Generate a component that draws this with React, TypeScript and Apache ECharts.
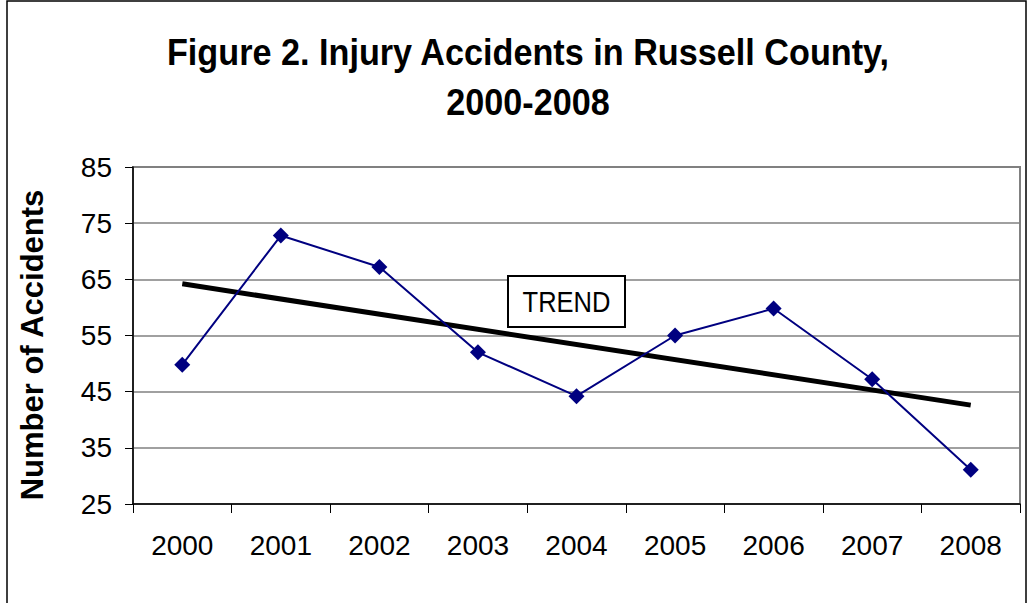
import React, { useEffect, useRef } from "react";
import * as echarts from "echarts";

const years = ["2000", "2001", "2002", "2003", "2004", "2005", "2006", "2007", "2008"];
const accidents = [49.8, 72.8, 67.2, 52.0, 44.2, 55.0, 59.8, 47.2, 31.1];
const trend = [64.2, null, null, null, null, null, null, null, 42.6];
const yTicks = { min: 25, max: 85, interval: 10 };
const titleLines = ["Figure 2. Injury Accidents in Russell County,", "2000-2008"];
const yName = "Number of Accidents";
const trendLabel = "TREND";

const SANS = "'Liberation Sans', Arial, Helvetica, sans-serif";

export default function App() {
  const ref = useRef<HTMLDivElement>(null);
  useEffect(() => {
    if (!ref.current) return;
    const chart = echarts.init(ref.current, null, { renderer: "svg" });
    chart.setOption({
      animation: false,
      backgroundColor: "#ffffff",
      grid: {
        left: 133,
        right: 9,
        top: 167,
        bottom: 99,
        show: true,
        borderColor: "#808080",
        borderWidth: 2,
        backgroundColor: "transparent",
      },
      xAxis: {
        type: "category",
        data: years,
        boundaryGap: true,
        axisLine: { show: true, lineStyle: { color: "#000", width: 1.5 } },
        axisTick: { show: true, inside: false, length: 9, alignWithLabel: false, lineStyle: { color: "#000", width: 1 } },
        axisLabel: { color: "#000", fontSize: 28, fontFamily: SANS, margin: 27 },
        splitLine: { show: false },
      },
      yAxis: {
        type: "value",
        min: yTicks.min,
        max: yTicks.max,
        interval: yTicks.interval,
        axisLine: { show: true, lineStyle: { color: "#000", width: 1.5 } },
        axisTick: { show: true, inside: false, length: 8, lineStyle: { color: "#000", width: 1 } },
        axisLabel: { color: "#000", fontSize: 28, fontFamily: SANS, margin: 21 },
        splitLine: { show: true, lineStyle: { color: "#808080", width: 1.5 } },
      },
      series: [
        {
          name: "Accidents",
          type: "line",
          data: accidents,
          symbol: "diamond",
          symbolSize: 16,
          itemStyle: { color: "#000080" },
          lineStyle: { color: "#000080", width: 2 },
          z: 3,
        },
        {
          name: "Trend",
          type: "line",
          data: trend,
          connectNulls: true,
          showSymbol: false,
          symbol: "none",
          lineStyle: { color: "#000", width: 5 },
          z: 2,
        },
      ],
      graphic: [
        {
          type: "rect",
          shape: { x: 7, y: 1, width: 1019, height: 640 },
          style: { fill: "none", stroke: "#000", lineWidth: 1.5 },
          silent: true,
          z: 0,
        },
        {
          type: "text",
          x: 528,
          y: 52,
          scaleX: 0.95,
          style: {
            text: titleLines[0],
            fill: "#000",
            font: "bold 36px " + SANS,
            textAlign: "center",
            textVerticalAlign: "middle",
          },
        },
        {
          type: "text",
          x: 528,
          y: 102,
          scaleX: 0.95,
          style: {
            text: titleLines[1],
            fill: "#000",
            font: "bold 36px " + SANS,
            textAlign: "center",
            textVerticalAlign: "middle",
          },
        },
        {
          type: "text",
          x: 32,
          y: 345,
          rotation: Math.PI / 2,
          style: {
            text: yName,
            fill: "#000",
            font: "bold 31px " + SANS,
            textAlign: "center",
            textVerticalAlign: "middle",
          },
        },
        {
          type: "rect",
          shape: { x: 508, y: 276, width: 117, height: 51 },
          style: { fill: "#fff", stroke: "#000", lineWidth: 2 },
          z: 10,
        },
        {
          type: "text",
          x: 566.5,
          y: 302,
          scaleX: 0.85,
          z: 11,
          style: {
            text: trendLabel,
            fill: "#000",
            font: "30px " + SANS,
            textAlign: "center",
            textVerticalAlign: "middle",
          },
        },
      ],
    });
    return () => chart.dispose();
  }, []);
  return (
    <div
      ref={ref}
      style={{ position: "absolute", left: 0, top: 0, width: 1029, height: 603 }}
    />
  );
}
